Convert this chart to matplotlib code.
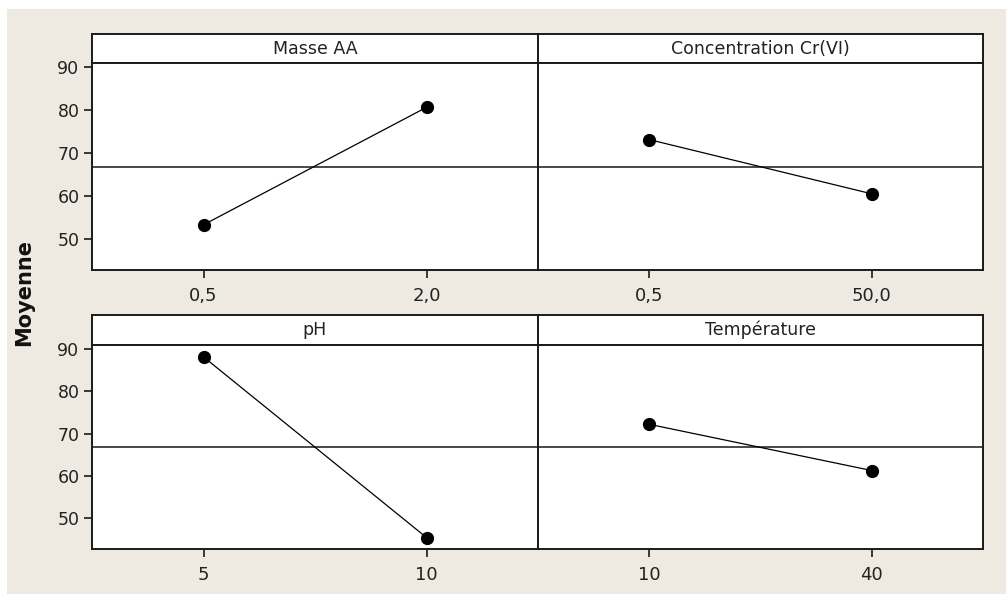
import matplotlib
matplotlib.use("Agg")
import matplotlib.pyplot as plt
from matplotlib.patches import Rectangle

# Données (moyennes)
facteurs = ["Masse AA", "Concentration Cr(VI)", "pH", "Température"]
niveaux = [["0,5", "2,0"], ["0,5", "50,0"], ["5", "10"], ["10", "40"]]
moyennes = [[53.3, 80.6], [73.1, 60.5], [88.1, 45.5], [72.2, 61.3]]
moyenne_globale = 66.8
y_ticks = [50, 60, 70, 80, 90]

W, H = 1006, 594
fig = plt.figure(figsize=(W / 100, H / 100), dpi=100)
fig.patch.set_facecolor("#eeeae1")
# bordure blanche en haut et a gauche
fig.patches.append(Rectangle((0, 1 - 9 / H), 1, 9 / H, transform=fig.transFigure,
                             facecolor="white", edgecolor="none", zorder=-1))
fig.patches.append(Rectangle((0, 0), 7 / W, 1, transform=fig.transFigure,
                             facecolor="white", edgecolor="none", zorder=-1))


def px_axes(x0, y0, x1, y1):
    return fig.add_axes([x0 / W, 1 - y1 / H, (x1 - x0) / W, (y1 - y0) / H])


cols = [(92, 538), (538, 983)]
rows = [(34, 63, 270), (315, 345, 549)]
edge = "#1a1a1a"

for i, fac in enumerate(facteurs):
    r, c = divmod(i, 2)
    xa, xb = cols[c]
    top, strip_bot, bot = rows[r]

    # bandeau du titre
    st = px_axes(xa, top, xb, strip_bot)
    st.set_facecolor("white")
    st.set_xticks([])
    st.set_yticks([])
    for s in st.spines.values():
        s.set_color(edge)
        s.set_linewidth(1.4)
    st.text(0.5, 0.5, fac, ha="center", va="center", fontsize=12.5,
            color="#222222", transform=st.transAxes)

    ax = px_axes(xa, strip_bot, xb, bot)
    ax.set_facecolor("white")
    for s in ax.spines.values():
        s.set_color(edge)
        s.set_linewidth(1.4)
    ax.axhline(moyenne_globale, color="#3a3a3a", lw=1.3, zorder=1)
    ax.plot(range(len(niveaux[i])), moyennes[i], color="black", lw=0.9,
            marker="o", markersize=8.5, zorder=3)
    ax.set_xlim(-0.5, 1.5)
    ax.set_ylim(42.8, 90.9)
    ax.set_xticks(range(len(niveaux[i])))
    ax.set_xticklabels(niveaux[i], fontsize=13, color="#222222")
    ax.tick_params(axis="x", direction="out", length=6, width=1.2,
                   color=edge, pad=6)
    if c == 0:
        ax.set_yticks(y_ticks)
        ax.set_yticklabels([str(v) for v in y_ticks], fontsize=12.5,
                           color="#222222")
        ax.tick_params(axis="y", direction="out", length=6, width=1.2,
                       color=edge, pad=3)
    else:
        ax.set_yticks([])

fig.text(24 / W, 1 - 292 / H, "Moyenne", rotation=90, ha="center",
         va="center", fontsize=15, fontweight="bold", color="#111111")

fig.savefig("out.png", dpi=100, facecolor=fig.get_facecolor())
